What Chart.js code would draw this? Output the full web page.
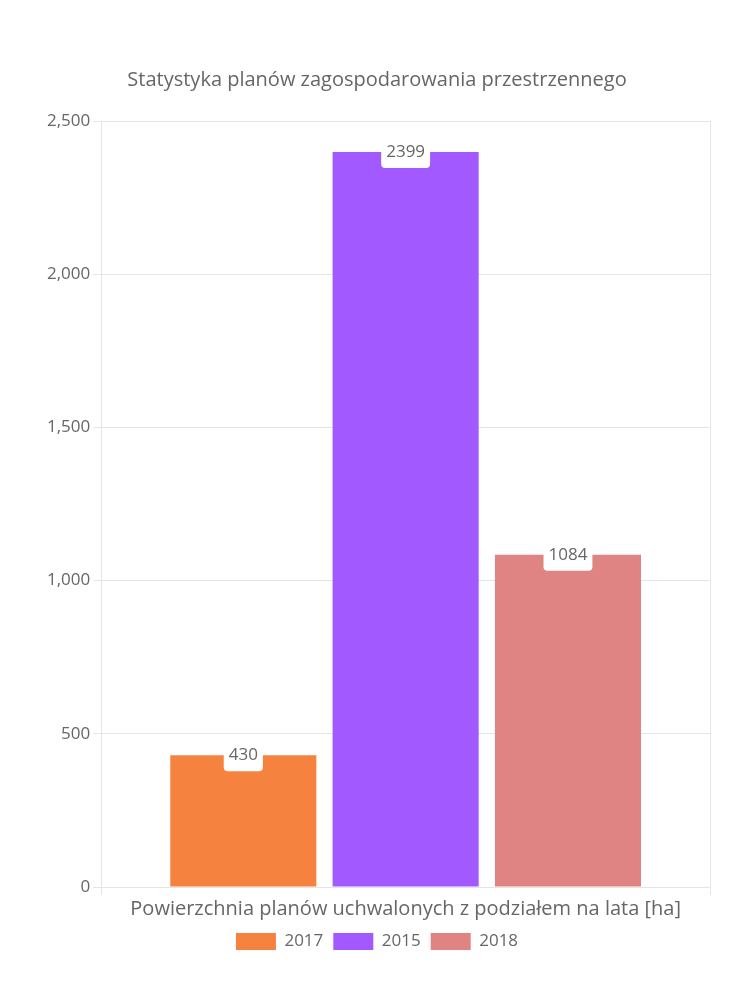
<!DOCTYPE html>
<html>
<head>
<meta charset="utf-8">
<script src="https://cdn.jsdelivr.net/npm/chart.js@4.4.1/dist/chart.umd.min.js"></script>
<style>
html,body{margin:0;padding:0;background:#fff;}
#wrap{width:750px;height:1000px;}
</style>
</head>
<body>
<div id="wrap"><canvas id="c" width="750" height="1000"></canvas></div>
<script>
const categories = ['Powierzchnia planów uchwalonych z podziałem na lata [ha]'];
const seriesNames = ['2017', '2015', '2018'];
const values2017 = [430];
const values2015 = [2399];
const values2018 = [1084];
const seriesColors = ['#f5833f', '#a259ff', '#e08383'];
const FONT = '"Open Sans", Lato, sans-serif';

const labelPlugin = {
  id: 'valueLabels',
  afterDatasetsDraw(chart) {
    const ctx = chart.ctx;
    ctx.save();
    ctx.font = '17px ' + FONT;
    ctx.textAlign = 'center';
    ctx.textBaseline = 'middle';
    chart.data.datasets.forEach((ds, i) => {
      const meta = chart.getDatasetMeta(i);
      meta.data.forEach((el, j) => {
        const txt = String(ds.data[j]);
        const w = ctx.measureText(txt).width + 10;
        const h = 32;
        const x = el.x - w / 2, y = el.y - h / 2;
        ctx.fillStyle = '#ffffff';
        ctx.beginPath();
        ctx.roundRect(x, y, w, h, 4);
        ctx.fill();
        ctx.fillStyle = '#666666';
        ctx.fillText(txt, el.x, el.y);
      });
    });
    ctx.restore();
  }
};

const datasets = [values2017, values2015, values2018].map((vals, i) => ({
  label: seriesNames[i],
  data: vals,
  backgroundColor: seriesColors[i],
  borderWidth: 0,
  barPercentage: 0.9,
  categoryPercentage: 0.8
}));

new Chart(document.getElementById('c'), {
  type: 'bar',
  data: { labels: categories, datasets },
  plugins: [labelPlugin],
  options: {
    responsive: false,
    animation: false,
    layout: { padding: { left: 44, right: 40, top: 68, bottom: 40 } },
    plugins: {
      title: {
        display: true,
        text: 'Statystyka planów zagospodarowania przestrzennego',
        color: '#666',
        font: { family: FONT, size: 20, weight: 'normal' },
        padding: { top: 0, bottom: 29 }
      },
      legend: {
        position: 'bottom',
        labels: {
          boxWidth: 40,
          boxHeight: 17,
          color: '#666',
          font: { family: FONT, size: 17 },
          padding: 10
        }
      },
      tooltip: { enabled: false }
    },
    scales: {
      x: {
        ticks: { display: false },
        grid: { color: '#e5e5e5', drawTicks: true, tickLength: 8 },
        border: { color: '#e5e5e5' },
        title: {
          display: true,
          text: categories[0],
          color: '#666',
          font: { family: FONT, size: 20 },
          padding: { top: 2, bottom: 2 }
        }
      },
      y: {
        min: 0,
        max: 2500,
        ticks: { stepSize: 500, color: '#666', font: { family: FONT, size: 17 } },
        grid: { color: '#e5e5e5', tickLength: 8 },
        border: { color: '#e5e5e5' }
      }
    }
  }
});
</script>
</body>
</html>
